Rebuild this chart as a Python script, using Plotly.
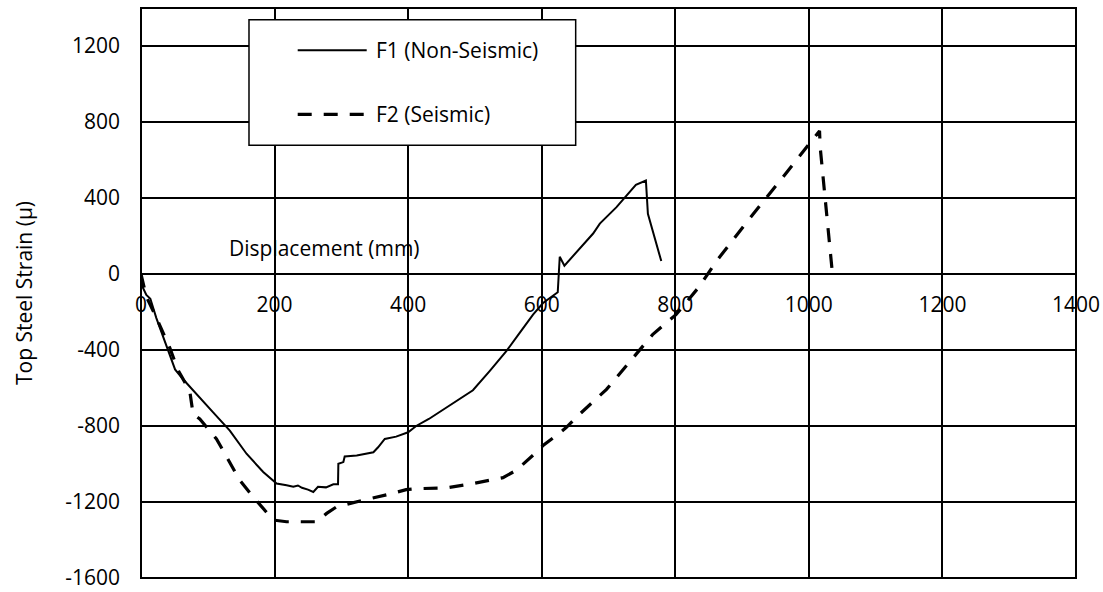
import plotly.graph_objects as go

# ---- data ----
f1_x = [0, 2, 8, 14, 23, 38, 51, 63, 83, 108, 133, 158, 183, 203, 218, 228, 235, 241, 250,
        258, 265, 277, 288, 295, 295.5, 303, 305, 323, 348, 355, 365, 382, 400, 412, 431,
        462, 477, 497, 522, 547, 567, 587, 602, 624, 627, 634, 677, 687, 712, 741, 756, 759, 779]
f1_y = [0, -66, -110, -130, -232, -371, -502, -554, -633, -728, -824, -946, -1042, -1103,
        -1112, -1120, -1113, -1125, -1135, -1147, -1120, -1123, -1107, -1107, -999, -990,
        -960, -955, -938, -912, -868, -856, -833, -800, -763, -694, -659, -612, -511, -406,
        -310, -214, -153, -96, 91, 44, 213, 265, 352, 469, 492, 317, 68]

f2_x = [0, 8, 21, 43, 56, 73, 78, 88, 113, 128, 148, 168, 185, 198, 218, 263, 278, 293, 333,
        357, 372, 397, 412, 457, 497, 542, 562, 592, 602, 622, 637, 657, 697, 712, 766, 801,
        836, 861, 911, 961, 991, 1016, 1017, 1026, 1035]
f2_y = [0, -120, -214, -388, -510, -615, -737, -763, -868, -964, -1086, -1173, -1242, -1295,
        -1304, -1304, -1260, -1225, -1190, -1173, -1159, -1135, -1130, -1126, -1103, -1072,
        -1033, -938, -903, -850, -807, -737, -607, -545, -319, -214, -66, 65, 291, 509, 640,
        753, 666, 344, 13]

series_names = ["F1 (Non-Seismic)", "F2 (Seismic)"]
x_ticks = [0, 200, 400, 600, 800, 1000, 1200, 1400]
y_ticks = [-1600, -1200, -800, -400, 0, 400, 800, 1200]
x_range = [0, 1400]
y_range = [-1600, 1400]
x_title = "Displacement (mm)"
y_title = "Top Steel Strain (µ)"

FONT = "Open Sans"
FS = 21
DASH = "14px,12px"

fig = go.Figure()
fig.add_trace(go.Scatter(x=f1_x, y=f1_y, mode="lines", name=series_names[0],
                         line=dict(color="black", width=2), showlegend=False))
fig.add_trace(go.Scatter(x=f2_x, y=f2_y, mode="lines", name=series_names[1],
                         line=dict(color="black", width=3.2, dash=DASH), showlegend=False))

zero_pos = (0 - y_range[0]) / (y_range[1] - y_range[0])

fig.update_layout(
    width=1103, height=592,
    margin=dict(l=141, r=27, t=8, b=14, autoexpand=False),
    paper_bgcolor="white", plot_bgcolor="white",
    font=dict(family=FONT, size=FS, color="black"),
    xaxis=dict(range=x_range, tickvals=x_ticks, ticktext=[str(v) for v in x_ticks],
               showgrid=True, gridcolor="black", gridwidth=1.5, zeroline=False,
               showline=False, anchor="free", position=zero_pos, automargin=False,
               ticks="", ticklabelstandoff=16, tickfont=dict(size=FS),
               ticklabeloverflow="allow"),
    yaxis=dict(range=y_range, tickvals=y_ticks, ticktext=[str(v) for v in y_ticks],
               showgrid=True, gridcolor="black", gridwidth=1.5, zeroline=False,
               showline=False, ticks="", ticklabelstandoff=20, tickfont=dict(size=FS),
               ticklabeloverflow="allow", automargin=False,
               title=dict(text=y_title, font=dict(size=FS), standoff=26)),
    showlegend=False,
)

# axis title placed inside plot like the reference
fig.add_annotation(x=275, y=135, xref="x", yref="y", text=x_title, showarrow=False,
                   xanchor="center", yanchor="middle", font=dict(size=FS))

# plot frame
fig.add_shape(type="rect", xref="paper", yref="paper", x0=0, x1=1, y0=0, y1=1,
              line=dict(color="black", width=2), layer="above")

# legend box (drawn manually to match the reference layout)
lx0, lx1, ly0, ly1 = 0.1155, 0.4649, 0.7592, 0.9796
fig.add_shape(type="rect", xref="paper", yref="paper", x0=lx0, x1=lx1, y0=ly0, y1=ly1,
              line=dict(color="black", width=1.5), fillcolor="white", layer="above")
row_y = [0.9257, 0.8133]
sx0, sx1, tx = 0.1676, 0.2414, 0.2492
fig.add_shape(type="line", xref="paper", yref="paper", x0=sx0, x1=sx1, y0=row_y[0], y1=row_y[0],
              line=dict(color="black", width=2), layer="above")
fig.add_shape(type="line", xref="paper", yref="paper", x0=sx0, x1=sx1, y0=row_y[1], y1=row_y[1],
              line=dict(color="black", width=3.2, dash=DASH), layer="above")
for name, ry in zip(series_names, row_y):
    fig.add_annotation(x=tx, y=ry, xref="paper", yref="paper", text=name, showarrow=False,
                       xanchor="left", yanchor="middle", font=dict(size=FS))

fig.write_html("out.html", config={"displayModeBar": False},
               post_script="document.body.style.margin='0';")
